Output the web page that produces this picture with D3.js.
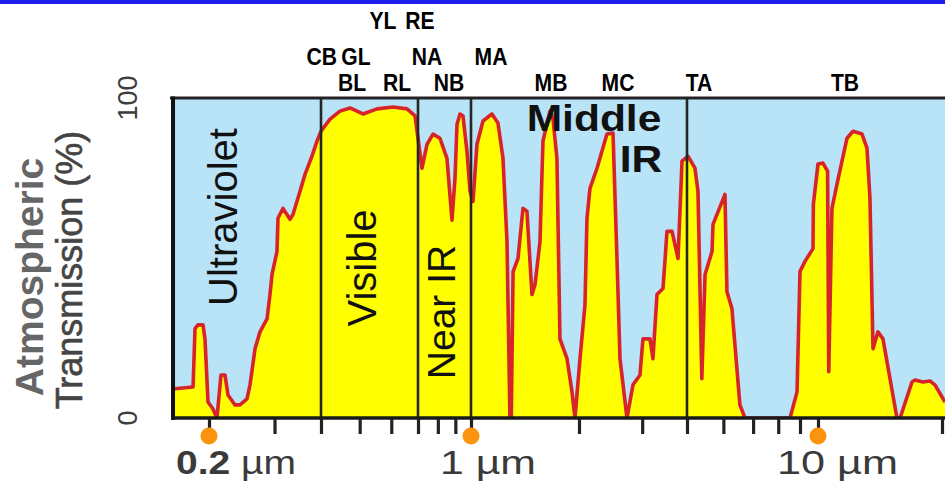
<!DOCTYPE html>
<html>
<head>
<meta charset="utf-8">
<script src="https://cdn.jsdelivr.net/npm/d3@7/dist/d3.min.js"></script>
<style>
  html, body { margin: 0; padding: 0; background: #fff; }
  svg { display: block; }
  text { font-family: "Liberation Sans", Arial, Helvetica, sans-serif; }
</style>
</head>
<body>
<svg id="chart" width="945" height="481"></svg>
<script>
// ---------- data ----------
// wavelength in micrometres
const wavelength = [
  0.1591, 0.1812, 0.1834, 0.1868, 0.1927, 0.1951, 0.1988, 0.2050, 0.2101, 0.2154,
  0.2208, 0.2250, 0.2349, 0.2423, 0.2530, 0.2578, 0.2659, 0.2742, 0.2864, 0.2917,
  0.2954, 0.3046, 0.3065, 0.3162, 0.3302, 0.3363, 0.3513, 0.3623, 0.3783, 0.3902,
  0.4000, 0.4213, 0.4463, 0.4729, 0.5095, 0.5526, 0.6060, 0.6571, 0.6882, 0.7000,
  0.7191, 0.7437, 0.7743, 0.8116, 0.8507, 0.8799, 0.8979, 0.9101, 0.9286, 0.9475,
  0.9733, 0.9934, 1.013, 1.039, 1.080, 1.144, 1.189, 1.228, 1.260, 1.284,
  1.295, 1.310, 1.352, 1.396, 1.432, 1.479, 1.508, 1.557, 1.587, 1.660,
  1.692, 1.736, 1.770, 1.852, 1.912, 1.949, 2.013, 2.078, 2.105, 2.146,
  2.245, 2.393, 2.488, 2.552, 2.602, 2.721, 2.828, 2.958, 3.015, 3.154,
  3.215, 3.299, 3.429, 3.518, 3.634, 3.776, 3.874, 4.025, 4.200, 4.279,
  4.381, 4.468, 4.663, 4.692, 5.049, 5.111, 5.270, 5.534, 5.707, 7.525,
  7.855, 8.000, 8.506, 9.398, 9.440, 10.00, 10.28, 10.55, 10.62, 10.81,
  11.12, 11.76, 12.16, 12.79, 13.15, 13.37, 13.60, 13.98, 14.38, 15.55,
  15.82, 16.91, 17.20, 17.98, 18.70, 19.23, 20.34
];
// atmospheric transmission in percent
const transmission = [
  9.1, 9.7, 28.0, 29.2, 29.2, 24.8, 5.0, 2.8, 0.0, 13.5,
  13.5, 7.2, 4.1, 4.1, 6.0, 10.4, 21.7, 27.0, 31.1, 38.7,
  45.0, 52.2, 62.6, 65.7, 62.3, 63.8, 71.1, 76.4, 82.1, 86.8,
  89.9, 93.7, 96.2, 97.2, 95.3, 96.9, 97.5, 96.9, 94.7, 87.7,
  78.3, 85.8, 89.0, 87.7, 81.4, 62.0, 75.2, 92.1, 95.3, 94.7,
  83.6, 71.1, 67.9, 85.8, 93.1, 95.3, 92.5, 81.4, 55.3, 0.0,
  0.0, 45.9, 50.0, 65.7, 64.8, 38.7, 41.8, 55.3, 86.8, 96.2,
  94.0, 81.4, 24.8, 18.6, 8.2, 0.0, 18.6, 35.5, 62.6, 72.0,
  78.3, 89.0, 89.3, 50.0, 18.6, 0.0, 10.4, 13.5, 24.8, 24.8,
  18.6, 38.7, 40.6, 58.5, 58.5, 50.0, 80.5, 82.1, 78.3, 71.1,
  12.3, 45.0, 52.2, 60.7, 70.1, 39.6, 34.3, 4.1, 0.0, 0.0,
  8.2, 45.9, 49.1, 53.1, 67.0, 79.6, 79.9, 77.4, 14.5, 65.7,
  73.3, 87.7, 89.9, 89.0, 84.6, 68.9, 21.7, 27.0, 24.8, 0.0,
  0.0, 11.3, 11.9, 11.3, 11.6, 10.4, 5.0
];

// x axis ticks (micrometres) and labelled ticks
const xTicks = [0.2, 0.3, 0.4, 0.5, 0.6, 0.7, 0.8, 0.9, 1, 2, 3, 4, 5, 6, 7, 8, 10, 20];
const xMarked = [0.2, 1, 10];
const xMarkedLabels = ["0.2", "1", "10"];
const yTickValues = [0, 100];

// spectral region boundaries (micrometres)
const regionBounds = [0.4, 0.7, 1, 4];
const regionNames = ["Ultraviolet", "Visible", "Near IR"];

// sensor band labels: name, centre wavelength, row
const bandNames = ["YL", "RE", "CB", "GL", "NA", "MA", "BL", "RL", "NB", "MB", "MC", "TA", "TB"];
const bandCentres = [0.572, 0.7095, 0.402, 0.4895, 0.7437, 1.137, 0.4783, 0.6201, 0.8626, 1.671, 2.569, 4.304, 11.63];
const bandRows = [0, 0, 1, 1, 1, 1, 2, 2, 2, 2, 2, 2, 2];

// ---------- layout ----------
const W = 945, H = 481;
const svg = d3.select("#chart");

// hand-drawn log axis: piecewise log scale anchored on its tick marks
const x = d3.scaleLog()
  .domain([0.2, 0.4, 0.7, 1, 4, 8, 10, 20])
  .range([209, 321, 418, 471, 687, 800, 818, 942]);
const y = d3.scaleLinear().domain([0, 100]).range([418, 99]);

const xMin = d3.min(wavelength);
const plotLeft = x(xMin), plotRight = W;
const plotTop = 98, plotBottom = y(0);

const data = wavelength.map((w, i) => ({ w, t: transmission[i] }));

// top blue strip (cut off link text)
svg.append("rect").attr("x", 0).attr("y", 0).attr("width", W).attr("height", 4).attr("fill", "#1e1eef");

// background
svg.append("rect").attr("x", plotLeft).attr("y", plotTop).attr("width", plotRight - plotLeft).attr("height", plotBottom - plotTop)
  .attr("fill", "#b9e3f7");

svg.append("clipPath").attr("id", "plotclip").append("rect")
  .attr("x", plotLeft).attr("y", plotTop).attr("width", plotRight - plotLeft).attr("height", plotBottom - plotTop);

const plot = svg.append("g").attr("clip-path", "url(#plotclip)");

plot.append("path").datum(data)
  .attr("fill", "#ffff00")
  .attr("d", d3.area().x(d => x(d.w)).y0(y(0)).y1(d => y(d.t)));

plot.append("path").datum(data)
  .attr("fill", "none").attr("stroke", "#d7242b").attr("stroke-width", 3.6)
  .attr("stroke-linejoin", "round")
  .attr("d", d3.line().x(d => x(d.w)).y(d => y(d.t)));

// region separators
svg.append("g").selectAll("line").data(regionBounds).join("line")
  .attr("x1", d => x(d)).attr("x2", d => x(d))
  .attr("y1", plotTop).attr("y2", plotBottom)
  .attr("stroke", "#262626").attr("stroke-width", 2.6);

// frame: top, left, bottom
svg.append("line").attr("x1", plotLeft - 2).attr("x2", plotRight).attr("y1", plotTop).attr("y2", plotTop)
  .attr("stroke", "#222").attr("stroke-width", 3);
svg.append("line").attr("x1", plotLeft + 1).attr("x2", plotLeft + 1).attr("y1", plotTop - 1.5).attr("y2", plotBottom + 2)
  .attr("stroke", "#111").attr("stroke-width", 4);
svg.append("line").attr("x1", plotLeft - 1).attr("x2", plotRight).attr("y1", plotBottom).attr("y2", plotBottom)
  .attr("stroke", "#1a1a1a").attr("stroke-width", 3.4);

// ticks
const axis = svg.append("g").attr("transform", `translate(0,${plotBottom + 1})`)
  .call(d3.axisBottom(x).tickValues(xTicks).tickSize(15).tickFormat(""));
axis.select(".domain").remove();
axis.selectAll(".tick line").attr("stroke", "#222").attr("stroke-width", 3.2);

// orange markers
svg.append("g").selectAll("circle").data(xMarked).join("circle")
  .attr("cx", d => x(d)).attr("cy", 436).attr("r", 8.5).attr("fill", "#fb930f");

// x labels
const xLabelDx = [-33, -31, -41];
const xLabelLen = [120, 96, 121];
xMarked.forEach((v, i) => {
  const t = svg.append("text")
    .attr("x", x(v) + xLabelDx[i]).attr("y", 474)
    .attr("font-size", 33).attr("fill", "#3a3a3a")
    .attr("textLength", xLabelLen[i])
    .attr("lengthAdjust", "spacingAndGlyphs");
  t.append("tspan").attr("font-weight", i === 0 ? "bold" : "normal").text(xMarkedLabels[i]);
  t.append("tspan").text(" \u00b5m");
});

// y tick labels (rotated)
yTickValues.forEach(v => {
  svg.append("text")
    .attr("transform", `translate(137,${y(v) + (v === 100 ? -1 : 0)}) rotate(-90)`)
    .attr("text-anchor", "middle").attr("font-size", 27).attr("fill", "#3d3d3d")
    .text(v);
});

// y title
svg.append("text").attr("transform", "translate(43,277) rotate(-90)")
  .attr("text-anchor", "middle").attr("font-size", 39).attr("font-weight", "bold").attr("fill", "#666")
  .text("Atmospheric");
svg.append("text").attr("transform", "translate(82,270) rotate(-90)")
  .attr("text-anchor", "middle").attr("font-size", 36).attr("fill", "#444")
  .attr("stroke", "#444").attr("stroke-width", 0.6)
  .text("Transmission (%)");

// region names (rotated)
const regionPos = [[237, 217, 40], [376, 268, 40], [455, 312, 39]];
regionNames.forEach((n, i) => {
  svg.append("text")
    .attr("transform", `translate(${regionPos[i][0]},${regionPos[i][1]}) rotate(-90)`)
    .attr("text-anchor", "middle").attr("font-size", regionPos[i][2]).attr("fill", "#111")
    .text(n);
});

// "Middle IR"
svg.append("text").attr("transform", "translate(594,131) scale(1.15,1)")
  .attr("text-anchor", "middle").attr("font-size", 37).attr("font-weight", "bold").attr("fill", "#111")
  .text("Middle");
svg.append("text").attr("transform", "translate(641,172) scale(1.15,1)")
  .attr("text-anchor", "middle").attr("font-size", 37).attr("font-weight", "bold").attr("fill", "#111")
  .text("IR");

// band labels
const rowBase = [29, 65, 91];
svg.append("g").selectAll("text").data(bandNames).join("text")
  .attr("transform", (d, i) => `translate(${x(bandCentres[i])},${rowBase[bandRows[i]]}) scale(0.88,1)`)
  .attr("text-anchor", "middle").attr("font-size", 24).attr("font-weight", "bold").attr("fill", "#000")
  .text(d => d);
</script>
</body>
</html>
